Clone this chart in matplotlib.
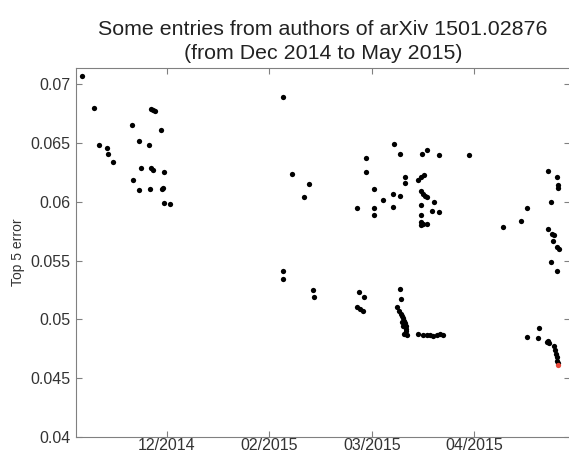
import matplotlib.pyplot as plt

# x in tick units (1 = 12/2014, 2 = 02/2015, 3 = 03/2015, 4 = 04/2015)
x_early = [0.177, 0.294, 0.847, 0.866, 0.886, 0.659, 0.947, 0.730, 0.825, 0.340,
           0.415, 0.431, 0.477, 0.747, 0.847, 0.864, 0.974, 0.669, 0.730, 0.837,
           0.951, 0.967, 0.971, 1.035]
err_early = [0.0707, 0.0680, 0.0679, 0.0678, 0.0677, 0.0665, 0.0661, 0.0652, 0.0648, 0.0648,
             0.0646, 0.0641, 0.0634, 0.0629, 0.0629, 0.0627, 0.0625, 0.0619, 0.0610, 0.0611,
             0.0611, 0.0612, 0.0599, 0.0598]

x_feb = [2.136, 2.218, 2.390, 2.338, 2.136, 2.136, 2.429, 2.436]
err_feb = [0.0689, 0.0624, 0.0615, 0.0604, 0.0541, 0.0534, 0.0525, 0.0519]

x_mar = [3.218, 3.274, 3.485, 3.540, 3.657, 2.940, 2.940, 3.323, 3.323, 3.452,
         3.479, 3.508, 3.020, 3.105, 3.209, 3.274, 3.479, 3.495, 3.518, 3.540,
         2.852, 3.023, 3.023, 3.209, 3.479, 3.608, 3.583, 3.657, 3.479, 3.479,
         3.501, 3.540, 3.479, 3.946]
err_mar = [0.0649, 0.0641, 0.0641, 0.0644, 0.0640, 0.0637, 0.0625, 0.0621, 0.0616, 0.0619,
           0.0621, 0.0623, 0.0611, 0.0602, 0.0607, 0.0605, 0.0609, 0.0607, 0.0605, 0.0604,
           0.0595, 0.0595, 0.0589, 0.0596, 0.0597, 0.0600, 0.0592, 0.0591, 0.0589, 0.0583,
           0.0581, 0.0581, 0.0580, 0.0640]

x_mar_low = [2.877, 2.926, 2.852, 2.884, 2.916, 3.274, 3.281, 3.248,
             3.264, 3.281, 3.296, 3.306, 3.313, 3.323, 3.329, 3.332, 3.335, 3.339,
             3.316, 3.290, 3.306,
             3.452, 3.501, 3.534, 3.566, 3.598, 3.632, 3.664, 3.696]
err_mar_low = [0.0523, 0.0519, 0.0511, 0.0509, 0.0507, 0.0526, 0.0517, 0.0511,
               0.0507, 0.0505, 0.0503, 0.0501, 0.0499, 0.0497, 0.0494, 0.0492, 0.0490, 0.0487,
               0.0488, 0.0498, 0.0494,
               0.0488, 0.0487, 0.0487, 0.0487, 0.0486, 0.0487, 0.0488, 0.0487]

x_apr = [4.713, 4.801, 4.811, 4.817, 4.743, 4.515, 4.450, 4.278, 4.713, 4.752,
         4.775, 4.768, 4.801, 4.827, 4.743, 4.807,
         4.629, 4.509, 4.622, 4.704, 4.719, 4.729, 4.778, 4.785, 4.791, 4.801,
         4.807, 4.814]
err_apr = [0.0626, 0.0621, 0.0614, 0.0612, 0.0600, 0.0595, 0.0584, 0.0579, 0.0577, 0.0573,
           0.0572, 0.0567, 0.0562, 0.0560, 0.0549, 0.0541,
           0.0493, 0.0485, 0.0484, 0.0481, 0.0482, 0.0480, 0.0477, 0.0474, 0.0471, 0.0468,
           0.0465, 0.0463]

x_best = [4.811]
err_best = [0.0461]

tick_pos = [1, 2, 3, 4]
tick_labels = ['12/2014', '02/2015', '03/2015', '04/2015']

plt.rcParams['font.family'] = ['Liberation Sans', 'DejaVu Sans']

fig = plt.figure(figsize=(5.69, 4.54), dpi=100)
ax = fig.add_axes([0.1336, 0.0374, 0.868, 0.8122])

xs = x_early + x_feb + x_mar + x_mar_low + x_apr
ys = err_early + err_feb + err_mar + err_mar_low + err_apr
ax.plot(xs, ys, 'o', color='black', markersize=3.8, markeredgewidth=0)
ax.plot(x_best, err_best, 'o', color='#e8483a', markersize=3.8, markeredgewidth=0)

ax.set_xlim(0.116, 4.93)
ax.set_ylim(0.04, 0.07136)
ax.set_xticks(tick_pos)
ax.set_xticklabels(tick_labels)
ax.set_yticks([0.04, 0.045, 0.05, 0.055, 0.06, 0.065, 0.07])
ax.set_yticklabels(['0.04', '0.045', '0.05', '0.055', '0.06', '0.065', '0.07'])

ax.tick_params(direction='in', top=True, right=True, length=4, width=0.8,
               color='#808080', labelsize=11.5, labelcolor='#333333')
ax.tick_params(axis='x', pad=1)
ax.tick_params(axis='y', pad=4)
for s in ax.spines.values():
    s.set_color('#808080')
    s.set_linewidth(0.8)

ax.set_ylabel('Top 5 error', fontsize=10, color='#333333', labelpad=4)
ax.set_title('Some entries from authors of arXiv 1501.02876\n(from Dec 2014 to May 2015)',
             fontsize=15.4, color='#222222', pad=7, linespacing=1.3)

fig.savefig('out.png', dpi=100)
